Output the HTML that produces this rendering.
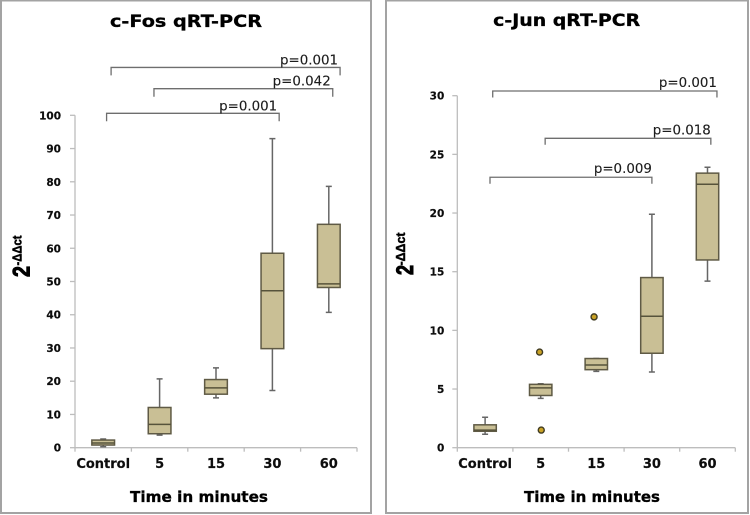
<!DOCTYPE html>
<html>
<head>
<meta charset="utf-8">
<title>c-Fos and c-Jun qRT-PCR</title>
<style>
html,body{margin:0;padding:0;background:#fff;width:750px;height:515px;overflow:hidden}
svg{display:block}
text{font-family:"DejaVu Sans","Liberation Sans",sans-serif;fill:#111}
.tick{font-size:10.5px;font-weight:bold;stroke:#111;stroke-width:.2}
.cat{font-size:13px;font-weight:bold;stroke:#111;stroke-width:.2}
.title{font-size:16.5px;font-weight:bold;fill:#000;stroke:#000;stroke-width:.3}
.xtitle{font-size:15px;font-weight:bold;fill:#000;stroke:#000;stroke-width:.3}
.pval{font-size:13.4px;fill:#1c1c1c;stroke:#1c1c1c;stroke-width:.12}
.ylab{font-family:"Liberation Sans",sans-serif;font-weight:bold;fill:#000;stroke:#000;stroke-width:.5}
.ybase{stroke-width:1}
</style>
</head>
<body>
<svg id="figure" width="750" height="515" viewBox="0 0 750 515" xmlns="http://www.w3.org/2000/svg">
  <defs><filter id="soft" x="-2%" y="-2%" width="104%" height="104%"><feGaussianBlur stdDeviation="0.36"/></filter></defs>
  <g filter="url(#soft)">
    <rect x="1" y="0.5" width="370" height="512.5" fill="#fff" stroke="#a3a3a3" stroke-width="2"/>
    <rect x="386" y="0.5" width="362" height="512.5" fill="#fff" stroke="#a3a3a3" stroke-width="2"/>
    <g id="cfos">
      <text class="title" x="186" y="27" text-anchor="middle" textLength="152" lengthAdjust="spacingAndGlyphs">c-Fos qRT-PCR</text>
      <text class="xtitle" x="199" y="502" text-anchor="middle" textLength="138" lengthAdjust="spacingAndGlyphs">Time in minutes</text>
      <g transform="translate(29.5,277) rotate(-90)">
        <text class="ylab ybase" x="0" y="0" font-size="24" textLength="11" lengthAdjust="spacingAndGlyphs">2</text>
        <text class="ylab" x="11.5" y="-8" font-size="13" textLength="30" lengthAdjust="spacingAndGlyphs">-ΔΔct</text>
      </g>
    </g>
    <g id="cjun">
      <text class="title" x="566.7" y="26" text-anchor="middle" textLength="147" lengthAdjust="spacingAndGlyphs">c-Jun qRT-PCR</text>
      <text class="xtitle" x="592" y="502" text-anchor="middle" textLength="136" lengthAdjust="spacingAndGlyphs">Time in minutes</text>
      <g transform="translate(413,275) rotate(-90)">
        <text class="ylab ybase" x="0" y="0" font-size="24" textLength="10" lengthAdjust="spacingAndGlyphs">2</text>
        <text class="ylab" x="9.5" y="-8" font-size="13" textLength="33" lengthAdjust="spacingAndGlyphs">-ΔΔct</text>
      </g>
    </g>
  </g>
</svg>
<script>
var categories = ["Control", "5", "15", "30", "60"];

var cfosTicks = [0, 10, 20, 30, 40, 50, 60, 70, 80, 90, 100];
var cfosLow = [0.3, 3.8, 15, 17.2, 40.7];
var cfosQ1 = [0.8, 4.2, 16.1, 29.8, 48.2];
var cfosMedian = [1.4, 7, 18, 47.2, 49.3];
var cfosQ3 = [2.3, 12.1, 20.5, 58.5, 67.2];
var cfosHigh = [2.6, 20.7, 24, 93, 78.6];
var cfosOutliers = [];
var cfosBracketLabels = ["p=0.001", "p=0.042", "p=0.001"];
var cfosBracketFrom = [0.14, 0.9, 0.06];
var cfosBracketTo = [4.2, 4.07, 3.12];
var cfosBracketLevel = [114.4, 108, 100.6];

var cjunTicks = [0, 5, 10, 15, 20, 25, 30];
var cjunLow = [1.15, 4.2, 6.5, 6.45, 14.2];
var cjunQ1 = [1.4, 4.45, 6.65, 8.05, 16];
var cjunMedian = [1.5, 5.1, 7.05, 11.2, 22.45];
var cjunQ3 = [1.95, 5.4, 7.6, 14.5, 23.4];
var cjunHigh = [2.6, 5.45, 7.6, 19.9, 23.9];
var cjunOutlierCats = [0.98, 1.01, 1.96];
var cjunOutlierValues = [8.15, 1.5, 11.15];
var cjunBracketLabels = ["p=0.001", "p=0.018", "p=0.009"];
var cjunBracketFrom = [0.137, 1.08, 0.088];
var cjunBracketTo = [4.17, 4.06, 3.0];
var cjunBracketLevel = [30.4, 26.37, 23.05];

var NS = "http://www.w3.org/2000/svg";

function make(parent, tag, attrs, text) {
  var el = document.createElementNS(NS, tag);
  for (var k in attrs) el.setAttribute(k, attrs[k]);
  if (text !== undefined) el.textContent = text;
  parent.appendChild(el);
  return el;
}

function drawPanel(opts) {
  var root = document.getElementById(opts.id);
  var maxTick = opts.ticks[opts.ticks.length - 1];
  function yScale(v) { return opts.y0 - (v / maxTick) * (opts.y0 - opts.y1); }
  var band = (opts.x1 - opts.x0) / categories.length;
  function xCenter(i) { return opts.x0 + band * (i + 0.5); }

  var axisColor = "#bdbdbd";
  var yAxis = make(root, "line", {x1: opts.x0, x2: opts.x0, y1: yScale(0), y2: yScale(maxTick), stroke: axisColor, "stroke-width": 1.3});
  
  
  var xAxis = make(root, "line", {x1: opts.x0, x2: opts.x1, y1: yScale(0), y2: yScale(0), stroke: axisColor, "stroke-width": 1.3});
  
  

  opts.ticks.forEach(function (t) {
    var mark = make(root, "line", {x1: opts.x0 - 5, x2: opts.x0, y1: yScale(t), y2: yScale(t), stroke: axisColor, "stroke-width": 1.3});
    
    
    var label = make(root, "text", {"class": "tick", x: opts.x0 - opts.tickGap, y: yScale(t) + 4, "text-anchor": "end"}, String(t));
    
    
  });

  for (var b = 0; b <= categories.length; b++) {
    var bx = opts.x0 + band * b;
    var xMark = make(root, "line", {x1: bx, x2: bx, y1: yScale(0), y2: yScale(0) + 4, stroke: axisColor, "stroke-width": 1.3});
    
    
  }

  categories.forEach(function (c, i) {
    var cx = xCenter(i);
    var label = make(root, "text", {"class": "cat", x: cx, y: 468, "text-anchor": "middle"}, c);
    
    

    var group = make(root, "g", {});
    
    

    var whisker = make(group, "path", {
      d: "M" + cx + " " + yScale(opts.q3[i]) + "V" + yScale(opts.high[i]) + "M" + (cx - 3) + " " + yScale(opts.high[i]) + "H" + (cx + 3) +
         "M" + cx + " " + yScale(opts.q1[i]) + "V" + yScale(opts.low[i]) + "M" + (cx - 3) + " " + yScale(opts.low[i]) + "H" + (cx + 3),
      stroke: "#666", "stroke-width": 1.5, fill: "none"
    });
    
    

    var box = make(group, "rect", {
      x: cx - opts.boxW / 2, y: yScale(opts.q3[i]), width: opts.boxW,
      height: yScale(opts.q1[i]) - yScale(opts.q3[i]),
      fill: "#c9bf95", stroke: "#5f5a45", "stroke-width": 1.5
    });
    
    

    var med = make(group, "line", {
      x1: cx - opts.boxW / 2, x2: cx + opts.boxW / 2, y1: yScale(opts.median[i]), y2: yScale(opts.median[i]),
      stroke: "#57523a", "stroke-width": 1.5
    });
    
    
  });

  opts.outlierCats.forEach(function (c, i) {
    var dot = make(root, "circle", {cx: xCenter(c), cy: yScale(opts.outlierValues[i]), r: 3, fill: "#c9a227", stroke: "#3f3a20", "stroke-width": 1.4});
    
    
  });

  opts.bracketLabels.forEach(function (txt, i) {
    var a = xCenter(opts.bracketFrom[i]);
    var z = xCenter(opts.bracketTo[i]);
    var y = yScale(opts.bracketLevel[i]);
    var bracket = make(root, "path", {d: "M" + a + " " + (y + opts.drop) + "V" + y + "H" + z + "V" + (y + opts.drop), fill: "none", stroke: "#6e6e6e", "stroke-width": 1.3});
    
    
    var label = make(root, "text", {"class": "pval", x: z - opts.labelInset, y: y - opts.labelLift, "text-anchor": "end"}, txt);
    
    
  });
}

drawPanel({
  id: "cfos", x0: 75, x1: 357, y0: 447.7, y1: 115.3, tickGap: 14, boxW: 22.7, drop: 8, labelInset: 2, labelLift: 3, ticks: cfosTicks,
  low: cfosLow, q1: cfosQ1, median: cfosMedian, q3: cfosQ3, high: cfosHigh,
  outlierCats: [], outlierValues: cfosOutliers,
  bracketLabels: cfosBracketLabels, bracketFrom: cfosBracketFrom, bracketTo: cfosBracketTo, bracketLevel: cfosBracketLevel
});

drawPanel({
  id: "cjun", x0: 457.3, x1: 735.3, y0: 447.7, y1: 95.7, tickGap: 13, boxW: 22.4, drop: 6.5, labelInset: 0, labelLift: 4, ticks: cjunTicks,
  low: cjunLow, q1: cjunQ1, median: cjunMedian, q3: cjunQ3, high: cjunHigh,
  outlierCats: cjunOutlierCats, outlierValues: cjunOutlierValues,
  bracketLabels: cjunBracketLabels, bracketFrom: cjunBracketFrom, bracketTo: cjunBracketTo, bracketLevel: cjunBracketLevel
});
</script>
</body>
</html>
